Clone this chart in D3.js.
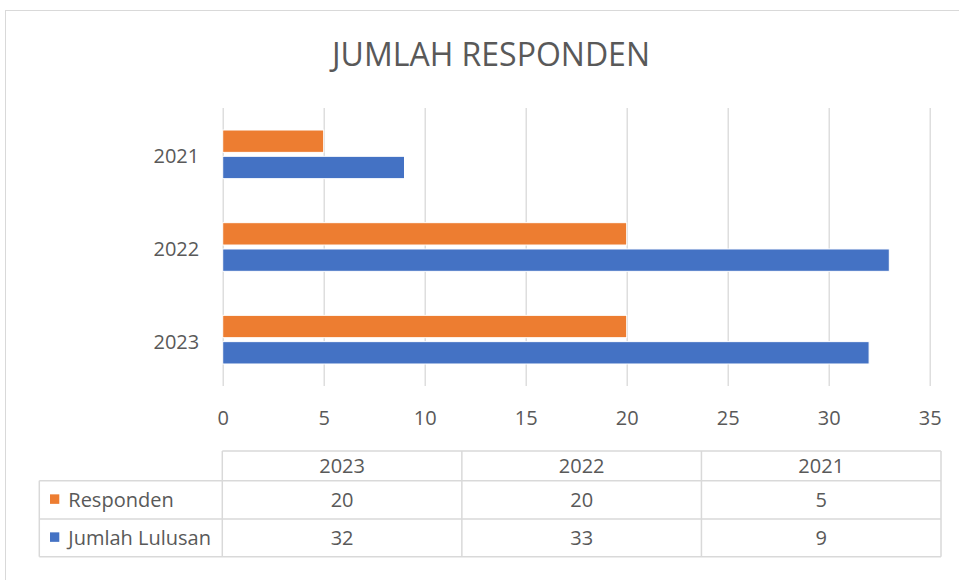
<!DOCTYPE html>
<html>
<head>
<meta charset="utf-8">
<script src="https://cdn.jsdelivr.net/npm/d3@7"></script>
<style>
  body { margin: 0; background: #fff; }
  text { font-family: "Open Sans", sans-serif; fill: #595959; }
</style>
</head>
<body>
<svg id="content" width="959" height="580"></svg>
<script>
// chart data (table order: 2023, 2022, 2021)
const categories = ["2023", "2022", "2021"];
const seriesNames = ["Responden", "Jumlah Lulusan"];
const responden = [20, 20, 5];
const lulusan = [32, 33, 9];
const colors = ["#ed7d31", "#4472c4"];
const xMax = 35;

const svg = d3.select("#content");

// plot area
const plot = { left: 222.7, right: 929.7, top: 108, bottom: 386 };

// outer chart border
svg.append("rect")
    .attr("x", 5.5).attr("y", 10.5)
    .attr("width", 1000).attr("height", 1000)
    .attr("fill", "none")
    .attr("stroke", "#d9d9d9")
    .attr("stroke-width", 1);

// title
svg.append("text")
    .attr("x", 491).attr("y", 66)
    .attr("text-anchor", "middle")
    .style("font-size", "32px")
    .text("JUMLAH RESPONDEN");

const x = d3.scaleLinear()
    .domain([0, xMax])
    .range([plot.left, plot.right]);

// 2021 on top
const y = d3.scaleBand()
    .domain(categories.slice().reverse())
    .range([plot.top, plot.bottom])
    .paddingInner(0.475)
    .paddingOuter(0.2375);

const ySeries = d3.scaleBand()
    .domain(seriesNames)
    .range([0, y.bandwidth()])
    .paddingInner(0.15);

// vertical gridlines + tick labels
svg.append("g")
    .attr("transform", `translate(0,${plot.bottom})`)
    .call(d3.axisBottom(x).ticks(7).tickSize(-(plot.bottom - plot.top)))
    .call(g => g.select(".domain").remove())
    .call(g => g.selectAll("line").attr("stroke", "#d9d9d9").attr("stroke-width", 1.3))
    .call(g => g.selectAll("text")
        .attr("y", 39).attr("dy", null)
        .style("font-size", "20px")
        .attr("fill", "#595959"));

// category labels
svg.append("g")
    .attr("transform", `translate(${plot.left},0)`)
    .call(d3.axisLeft(y).tickSize(0).tickPadding(23.5))
    .call(g => g.select(".domain").remove())
    .call(g => g.selectAll("text")
        .attr("dy", "0.45em")
        .style("font-size", "20px")
        .attr("fill", "#595959"));

// bars
const rows = categories.map((c, i) => ({ cat: c, values: [responden[i], lulusan[i]] }));

const groups = svg.append("g").selectAll("g")
    .data(rows)
    .enter()
    .append("g")
    .attr("transform", d => `translate(0,${y(d.cat)})`);

groups.selectAll("rect")
    .data(d => d.values.map((v, j) => ({ name: seriesNames[j], v: v, c: colors[j] })))
    .enter()
    .append("rect")
    .attr("x", x(0))
    .attr("y", d => ySeries(d.name))
    .attr("width", d => x(d.v) - x(0))
    .attr("height", ySeries.bandwidth())
    .attr("fill", d => d.c)
    .attr("stroke", "#fff")
    .attr("stroke-width", 1);

// data table
const tbl = { left: 39.3, labelRight: 222.3, right: 941, top: 451, rows: [480.7, 519, 556.7] };
const col = d3.scaleBand()
    .domain(categories)
    .range([tbl.labelRight, tbl.right]);

const tg = svg.append("g")
    .attr("stroke", "#d9d9d9")
    .attr("stroke-width", 1.5);

// horizontal lines
tg.append("line").attr("x1", tbl.labelRight).attr("x2", tbl.right).attr("y1", tbl.top).attr("y2", tbl.top);
tbl.rows.forEach(yy => {
    tg.append("line").attr("x1", tbl.left).attr("x2", tbl.right).attr("y1", yy).attr("y2", yy);
});
// vertical lines
tg.append("line").attr("x1", tbl.left).attr("x2", tbl.left).attr("y1", tbl.rows[0]).attr("y2", tbl.rows[2]);
categories.forEach(c => {
    tg.append("line").attr("x1", col(c)).attr("x2", col(c)).attr("y1", tbl.top).attr("y2", tbl.rows[2]);
});
tg.append("line").attr("x1", tbl.right).attr("x2", tbl.right).attr("y1", tbl.top).attr("y2", tbl.rows[2]);

// header
svg.append("g").selectAll("text")
    .data(categories)
    .enter()
    .append("text")
    .attr("x", d => col(d) + col.bandwidth() / 2)
    .attr("y", 473.3)
    .attr("text-anchor", "middle")
    .style("font-size", "20px")
    .text(d => d);

// series rows
const seriesVals = [responden, lulusan];
const baselines = [506.7, 545];
seriesNames.forEach((name, j) => {
    const rowMid = (tbl.rows[j] + tbl.rows[j + 1]) / 2;
    svg.append("rect")
        .attr("x", 50).attr("y", rowMid - 5.5)
        .attr("width", 9.3).attr("height", 9.5)
        .attr("fill", colors[j]);
    svg.append("text")
        .attr("x", 68.3).attr("y", baselines[j])
        .style("font-size", "20px")
        .text(name);
    svg.append("g").selectAll("text")
        .data(seriesVals[j])
        .enter()
        .append("text")
        .attr("x", (d, i) => col(categories[i]) + col.bandwidth() / 2)
        .attr("y", baselines[j])
        .attr("text-anchor", "middle")
        .style("font-size", "20px")
        .text(d => d);
});
</script>
</body>
</html>
